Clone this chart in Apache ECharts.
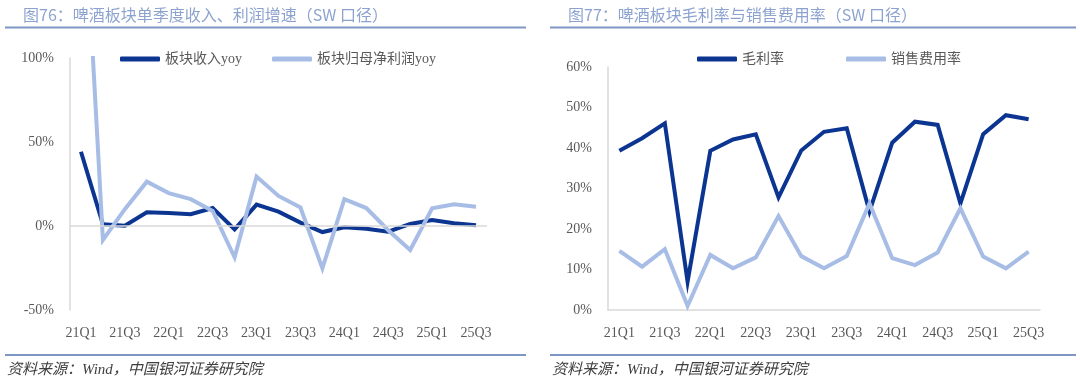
<!DOCTYPE html>
<html>
<head>
<meta charset="utf-8">
<script src="https://cdn.jsdelivr.net/npm/echarts@6/dist/echarts.min.js"></script>
<style>
html,body{margin:0;padding:0;background:#fff;}
#c{width:1080px;height:384px;}
</style>
</head>
<body>
<div id="c"></div>
<script>
const categories = ['21Q1','21Q2','21Q3','21Q4','22Q1','22Q2','22Q3','22Q4','23Q1','23Q2','23Q3','23Q4','24Q1','24Q2','24Q3','24Q4','25Q1','25Q2','25Q3'];
const revenueYoy = [44.2, 1, 0.2, 8.2, 7.7, 7, 10.7, -2, 12.7, 8.5, 2, -3.6, -0.8, -1.6, -3.4, 1.2, 3.6, 1.6, 0.4];
const profitYoy = [230, -8.3, 10, 26.4, 19.6, 16, 9, -18.6, 29.4, 17.9, 11, -25.2, 16, 10.7, -2.5, -14.3, 10.5, 12.9, 11.5];
const grossMargin = [39.3, 42.4, 46.1, 7, 39.3, 42.1, 43.4, 27.8, 39.4, 44, 44.9, 24.3, 41.3, 46.5, 45.7, 26.3, 43.4, 48.1, 47.1];
const salesExpense = [14.6, 10.7, 15, 1, 13.6, 10.3, 13, 23.2, 13.3, 10.3, 13.3, 26.3, 12.8, 11.1, 14.2, 25.1, 13.2, 10.3, 14.4];
const leftNames = ['板块收入yoy', '板块归母净利润yoy'];
const rightNames = ['毛利率', '销售费用率'];
const leftTitle = '图76：啤酒板块单季度收入、利润增速（SW 口径）';
const rightTitle = '图77：啤酒板块毛利率与销售费用率（SW 口径）';
const sourceText = '资料来源：Wind，中国银河证券研究院';

const DARK = '#0b3591';
const LIGHT = '#a7bde6';
const FONT = '"Liberation Serif", "Noto Sans CJK SC", serif';
const LABEL = '#595959';
const AXIS = '#d9d9d9';
const HEAD = '#7d96c6';

const chart = echarts.init(document.getElementById('c'), null, {renderer: 'canvas'});

function xAxisCfg(gridIndex, showLine) {
  return {
    type: 'category', gridIndex: gridIndex, data: categories, boundaryGap: true,
    axisLine: {show: showLine, onZero: false, lineStyle: {color: AXIS, width: 1.5}},
    axisTick: {show: false},
    axisLabel: {interval: 1, color: LABEL, fontFamily: FONT, fontSize: 14, margin: 16}
  };
}
function yAxisCfg(gridIndex, min, max, interval) {
  return {
    type: 'value', gridIndex: gridIndex, min: min, max: max, interval: interval,
    axisLine: {show: true, lineStyle: {color: AXIS, width: 1.5}},
    axisTick: {show: false},
    splitLine: {show: false},
    axisLabel: {color: LABEL, fontFamily: FONT, fontSize: 14, margin: 16, formatter: '{value}%'}
  };
}
function lineSeries(name, data, color, xi, yi) {
  return {
    name: name, type: 'line', data: data, xAxisIndex: xi, yAxisIndex: yi,
    symbol: 'none', clip: true, z: 3,
    lineStyle: {color: color, width: 4, join: 'miter'},
    itemStyle: {color: color}
  };
}
const legendText = {color: LABEL, fontFamily: FONT, fontSize: 14};

chart.setOption({
  animation: false,
  backgroundColor: '#fff',
  title: [
    {text: leftTitle, left: 18, top: 2, textStyle: {color: '#8da3cf', fontSize: 16, fontWeight: 'normal', fontFamily: '"Noto Sans CJK SC", sans-serif'}},
    {text: rightTitle, left: 563, top: 2, textStyle: {color: '#8da3cf', fontSize: 16, fontWeight: 'normal', fontFamily: '"Noto Sans CJK SC", sans-serif'}}
  ],
  legend: [
    {data: leftNames, left: 115, top: 47, itemWidth: 40, itemHeight: 5, itemGap: 30, icon: 'roundRect', textStyle: legendText},
    {data: rightNames, left: 692, top: 47, itemWidth: 40, itemHeight: 5, itemGap: 62, icon: 'roundRect', textStyle: legendText}
  ],
  grid: [
    {left: 70, right: 593, top: 58, bottom: 74},
    {left: 608, right: 40, top: 67, bottom: 74}
  ],
  xAxis: [xAxisCfg(0, false), xAxisCfg(1, true)],
  yAxis: [yAxisCfg(0, -50, 100, 50), yAxisCfg(1, 0, 60, 10)],
  series: [
    {
      type: 'line', data: [], xAxisIndex: 0, yAxisIndex: 0, z: 1, silent: true,
      markLine: {silent: true, symbol: 'none', label: {show: false},
        lineStyle: {color: AXIS, width: 1.5, type: 'solid'}, data: [{yAxis: 0}]}
    },
    lineSeries(leftNames[0], revenueYoy, DARK, 0, 0),
    lineSeries(leftNames[1], profitYoy, LIGHT, 0, 0),
    lineSeries(rightNames[0], grossMargin, DARK, 1, 1),
    lineSeries(rightNames[1], salesExpense, LIGHT, 1, 1)
  ],
  graphic: [
    {type: 'line', shape: {x1: 5, y1: 27.5, x2: 526, y2: 27.5}, style: {stroke: HEAD, lineWidth: 2}},
    {type: 'line', shape: {x1: 550, y1: 27.5, x2: 1076, y2: 27.5}, style: {stroke: HEAD, lineWidth: 2}},
    {type: 'line', shape: {x1: 5, y1: 355, x2: 526, y2: 355}, style: {stroke: HEAD, lineWidth: 2}},
    {type: 'line', shape: {x1: 550, y1: 355, x2: 1076, y2: 355}, style: {stroke: HEAD, lineWidth: 2}},
    {type: 'text', left: 7, top: 363, style: {text: sourceText, fill: '#404040', fontSize: 15, fontStyle: 'italic', fontFamily: FONT}},
    {type: 'text', left: 552, top: 363, style: {text: sourceText, fill: '#404040', fontSize: 15, fontStyle: 'italic', fontFamily: FONT}}
  ]
});
</script>
</body>
</html>
